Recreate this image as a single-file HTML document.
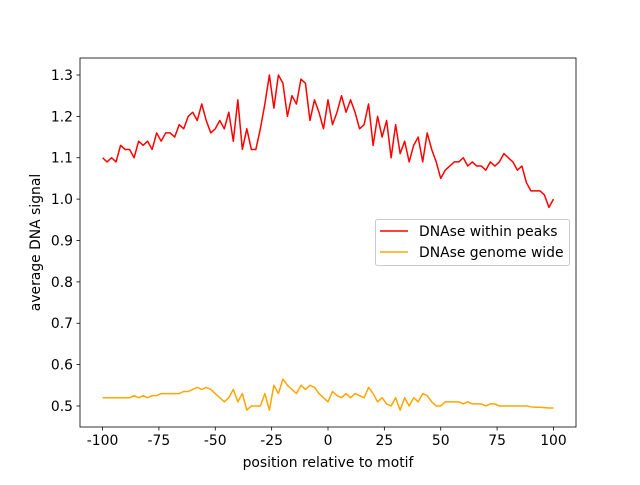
<!DOCTYPE html>
<html><head><meta charset="utf-8"><style>
body{margin:0;background:#fff;}
svg text{font-family:"DejaVu Sans","Liberation Sans",sans-serif;font-size:13.9px;fill:#000;}
</style></head><body>
<svg id="chart" width="640" height="480">
<rect x="0" y="0" width="640" height="480" fill="#fff"/>
<g id="plot"></g>
</svg>
<script>
const xValues = [];
for (let v = -100; v <= 100; v += 2) xValues.push(v);
const peaksSeries = [1.10,1.09,1.10,1.09,1.13,1.12,1.12,1.10,1.14,1.13,1.14,1.12,1.16,1.14,1.16,1.16,1.15,1.18,1.17,1.20,1.21,1.19,1.23,1.19,1.16,1.17,1.19,1.17,1.21,1.14,1.24,1.12,1.17,1.12,1.12,1.17,1.23,1.30,1.22,1.30,1.28,1.20,1.25,1.23,1.29,1.28,1.19,1.24,1.21,1.17,1.24,1.18,1.21,1.25,1.21,1.24,1.21,1.17,1.18,1.23,1.13,1.20,1.15,1.19,1.10,1.18,1.11,1.14,1.09,1.13,1.15,1.09,1.16,1.12,1.09,1.05,1.07,1.08,1.09,1.09,1.10,1.08,1.09,1.08,1.08,1.07,1.09,1.08,1.09,1.11,1.10,1.09,1.07,1.08,1.04,1.02,1.02,1.02,1.01,0.98,1.00];
const genomeSeries = [0.52,0.52,0.52,0.52,0.52,0.52,0.52,0.525,0.52,0.525,0.52,0.525,0.525,0.53,0.53,0.53,0.53,0.53,0.535,0.535,0.54,0.545,0.54,0.545,0.54,0.53,0.52,0.51,0.52,0.54,0.51,0.53,0.49,0.50,0.50,0.50,0.53,0.49,0.55,0.53,0.565,0.55,0.54,0.53,0.55,0.54,0.55,0.545,0.53,0.52,0.51,0.535,0.525,0.52,0.53,0.52,0.53,0.525,0.52,0.545,0.53,0.51,0.52,0.505,0.50,0.52,0.49,0.52,0.50,0.52,0.51,0.53,0.525,0.51,0.50,0.50,0.51,0.51,0.51,0.51,0.505,0.51,0.505,0.505,0.505,0.50,0.505,0.505,0.50,0.50,0.50,0.50,0.50,0.50,0.50,0.498,0.497,0.497,0.496,0.495,0.495];
const xTicks = [-100,-75,-50,-25,0,25,50,75,100];
const yTicks = [0.5,0.6,0.7,0.8,0.9,1.0,1.1,1.2,1.3];
const yTickLabels = ["0.5","0.6","0.7","0.8","0.9","1.0","1.1","1.2","1.3"];

const L=80,R=576,T=58,B=427;
const xMin=-110,xMax=110,yMin=0.4492,yMax=1.3411;
const sx=v=>L+(v-xMin)/(xMax-xMin)*(R-L);
const sy=v=>B-(v-yMin)/(yMax-yMin)*(B-T);
const NS="http://www.w3.org/2000/svg";
const g=document.getElementById('plot');
function mk(tag,attrs,parent){const e=document.createElementNS(NS,tag);for(const k in attrs)e.setAttribute(k,attrs[k]);(parent||g).appendChild(e);return e;}

function line(vals,color,name){
  const d=vals.map((v,i)=>(i?'L':'M')+sx(xValues[i]).toFixed(2)+','+sy(v).toFixed(2)).join('');
  const p=mk('path',{d:d,fill:'none',stroke:color,'stroke-width':1.5,'stroke-linejoin':'round'});
  
  
}
line(genomeSeries,'#ffa500','genome-wide-line');
line(peaksSeries,'#ff0000','within-peaks-line');

const frame=mk('rect',{x:L,y:T,width:R-L,height:B-T,fill:'none',stroke:'#000','stroke-width':0.8});



xTicks.forEach(t=>{
  const x=sx(t);
  mk('line',{x1:x,x2:x,y1:B,y2:B+3.5,stroke:'#000','stroke-width':0.8});
  const tx=mk('text',{x:x,y:B+18,'text-anchor':'middle'});tx.textContent=t;
  
  
});
yTicks.forEach((t,i)=>{
  const y=sy(t);
  mk('line',{x1:L-3.5,x2:L,y1:y,y2:y,stroke:'#000','stroke-width':0.8});
  const tx=mk('text',{x:L-7,y:y+5,'text-anchor':'end'});tx.textContent=yTickLabels[i];
  
  
});
const xt=mk('text',{x:(L+R)/2,y:467,'text-anchor':'middle'});xt.textContent='position relative to motif';


const yt=mk('text',{x:40,y:(T+B)/2,'text-anchor':'middle',transform:'rotate(-90 40 '+((T+B)/2)+')'});yt.textContent='average DNA signal';



const lg=mk('g',{});


mk('rect',{x:375.5,y:219.5,width:194,height:46,rx:2,fill:'#fff','fill-opacity':0.8,stroke:'#ccc','stroke-width':1},lg);
[['DNAse within peaks','#ff0000',236],['DNAse genome wide','#ffa500',257]].forEach(([lab,c,y])=>{
  const e=mk('g',{},lg);
  
  
  mk('line',{x1:380,x2:408,y1:y-5,y2:y-5,stroke:c,'stroke-width':1.5},e);
  const t=mk('text',{x:419,y:y},e);t.textContent=lab;
});
</script>
</body></html>
